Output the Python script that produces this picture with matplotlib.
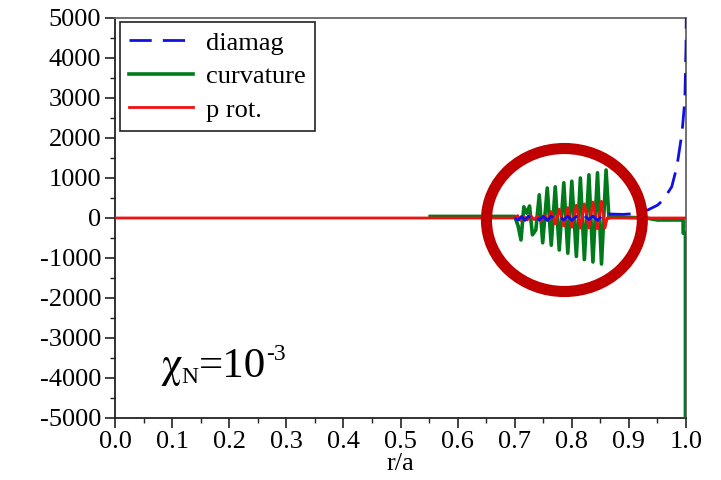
import matplotlib
matplotlib.use("Agg")
import matplotlib.pyplot as plt
from matplotlib.patches import Ellipse
from matplotlib.ticker import MultipleLocator

# radial profiles of the three drive terms
r_diamag = [0.700, 0.706, 0.712, 0.718, 0.724, 0.730, 0.737, 0.743, 0.750, 0.757,
            0.764, 0.771, 0.778, 0.786, 0.793, 0.800, 0.808, 0.815, 0.822, 0.830,
            0.837, 0.845, 0.852, 0.860, 0.866, 0.890, 0.910, 0.933, 0.950, 0.960,
            0.975, 0.984, 0.993, 0.998, 1.000, 1.001]
diamag = [0, -50, 40, -60, 50, -40, 60, -50, 40, -60,
          50, -40, 60, -50, 50, -60, 40, -50, 60, -40,
          50, -60, 40, -30, 100, 90, 110, 200, 320, 450,
          780, 1280, 2130, 2950, 4300, 6000]

r_curv = [0.552, 0.700, 0.706, 0.711, 0.716, 0.721, 0.726, 0.731, 0.737, 0.743,
          0.749, 0.757, 0.764, 0.771, 0.778, 0.786, 0.793, 0.800, 0.808, 0.815,
          0.822, 0.830, 0.837, 0.845, 0.852, 0.860, 0.865, 0.870, 0.930, 0.950,
          0.995, 0.995, 0.999, 0.999]
curvature = [40, 40, -200, -550, 280, 120, 300, -420, -300, 580,
             -620, 750, -680, 780, -800, 880, -880, 920, -960, 1000,
             -1040, 1080, -1100, 1130, -1150, 1200, 0, 30, 0, -50,
             -50, -380, -380, -6000]

r_prot = [0.000, 0.700, 0.705, 0.710, 0.716, 0.722, 0.728, 0.734, 0.740, 0.746,
          0.752, 0.758, 0.764, 0.771, 0.778, 0.786, 0.793, 0.800, 0.808, 0.815,
          0.822, 0.830, 0.837, 0.845, 0.852, 0.858, 0.862, 1.000]
prot = [0, 0, 60, -60, 40, -50, 60, -40, 50, -80,
        60, -60, 160, -150, 220, -200, 260, -230, 320, -250,
        350, -250, 400, -270, 420, -250, 0, 0]

x_ticks = [0.0, 0.1, 0.2, 0.3, 0.4, 0.5, 0.6, 0.7, 0.8, 0.9, 1.0]
y_ticks = [-5000, -4000, -3000, -2000, -1000, 0, 1000, 2000, 3000, 4000, 5000]

plt.rcParams["font.family"] = ["Liberation Serif", "DejaVu Serif"]

fig = plt.figure(figsize=(7.21, 4.80), dpi=100)
ax = fig.add_axes([115 / 721, 62 / 480, 571 / 721, 400 / 480])

ax.plot(r_curv, curvature, color="#007A1A", lw=2.6, label="curvature", zorder=3)
ax.plot(r_prot, prot, color="#F01010", lw=2.0, label="p rot.", zorder=4)
ax.plot(r_diamag, diamag, color="#1010E0", lw=2.0, dashes=(8, 4),
        label="diamag", zorder=5)

ax.set_xlim(0.0, 1.0)
ax.set_ylim(-5000, 5000)
ax.set_xticks(x_ticks)
ax.set_xticklabels([f"{v:.1f}" for v in x_ticks])
ax.set_yticks(y_ticks)
ax.set_yticklabels([str(v) for v in y_ticks])
ax.xaxis.set_minor_locator(MultipleLocator(0.05))
ax.yaxis.set_minor_locator(MultipleLocator(500))
ax.tick_params(which="major", direction="out", length=7, width=1.2,
               labelsize=19, pad=3, color="#222222")
ax.tick_params(which="minor", direction="out", length=3.5, width=1.0,
               color="#222222")
ax.tick_params(axis="x", pad=2)

for side in ("left", "bottom"):
    ax.spines[side].set_color("#222222")
    ax.spines[side].set_linewidth(1.3)
for side in ("top", "right"):
    ax.spines[side].set_color("#666666")
    ax.spines[side].set_linewidth(1.3)

ax.set_xlabel("r/a", fontsize=19, labelpad=0)

# highlight of the oscillating region
ax.add_patch(Ellipse((0.787, -50), 0.273, 3575, fill=False,
                     edgecolor="#C00000", lw=8.0, zorder=6))

# chi_N = 10^-3, built from pieces sharing one baseline so the exponent keeps a hyphen
base_y = -3975
t_chi = ax.text(0.079, base_y, "χ", fontsize=31, ha="left", va="baseline",
                family=["STIXGeneral", "DejaVu Serif"], zorder=7)
t_sub = ax.annotate("N", xy=(1.0, base_y), xycoords=(t_chi, "data"),
                    xytext=(0, -4), textcoords="offset points", fontsize=17,
                    ha="left", va="baseline", zorder=7)
t_eq = ax.annotate("=10", xy=(1.0, base_y), xycoords=(t_sub, "data"),
                   xytext=(0, 0), textcoords="offset points", fontsize=31,
                   ha="left", va="baseline", zorder=7)
ax.annotate("-3", xy=(1.0, base_y), xycoords=(t_eq, "data"),
            xytext=(0, 12), textcoords="offset points", fontsize=17,
            ha="left", va="baseline", zorder=7)

handles, labels = ax.get_legend_handles_labels()
order = [2, 0, 1]
leg = ax.legend([handles[i] for i in order], [labels[i] for i in order],
                loc="upper left", bbox_to_anchor=(0.009, 0.99), borderaxespad=0,
                fontsize=19, frameon=True, fancybox=False, framealpha=1,
                edgecolor="#222222", handlelength=2.4, handletextpad=0.5,
                labelspacing=0.38, borderpad=0.35)
leg.get_frame().set_linewidth(1.2)

fig.savefig("out.png", dpi=100)
